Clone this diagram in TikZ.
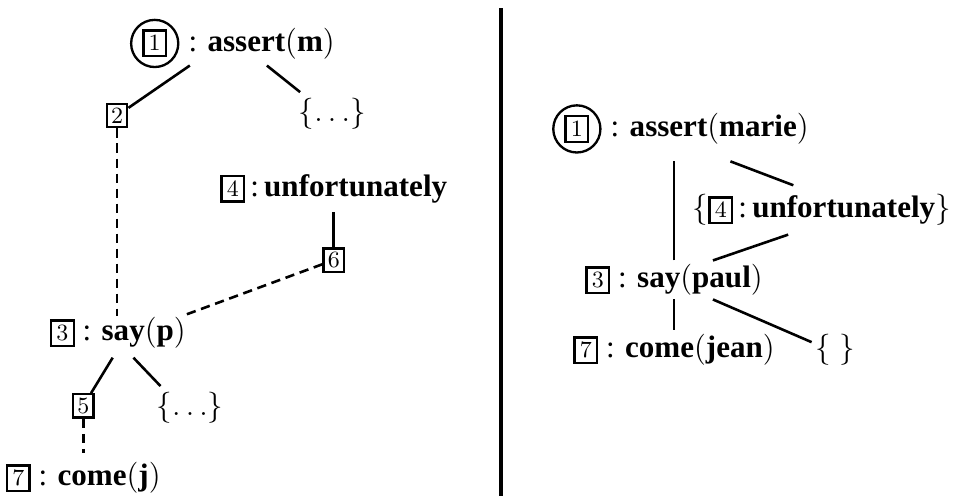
\documentclass[tikz,border=0pt]{standalone}
\usepackage[no-math]{fontspec}
\setmainfont{Liberation Serif}
\usepackage{amsmath}
\usetikzlibrary{positioning}

\setlength{\fboxsep}{1.6pt}
\setlength{\fboxrule}{0.9pt}
\newcommand{\boxnum}[1]{\fbox{\small$#1$}}

\tikzset{
  every node/.style={font=\large},
  idx/.style={draw, line width=0.9pt, inner sep=1.6pt, font=\small},
  ring/.style={draw, circle, line width=0.9pt, minimum size=0.64cm, inner sep=0pt},
  edge/.style={line width=1pt},
  dedge/.style={line width=1pt, dash pattern=on 3.6pt off 2.2pt}
}

\begin{document}
\begin{tikzpicture}
    \useasboundingbox (0,0) rectangle (12.99,6.73);

    % left tree
    \node[ring] (l1) at (2.10,6.14) {\boxnum{1}};
    \node[right=0pt of l1] (la) {: \textbf{assert}$($\textbf{m}$)$};
    \node[idx] (l2) at (1.59,5.16) {$2$};
    \node (lx) at (4.51,5.18) {$\{\ldots\}$};
    \node (l4) at (4.53,4.17) {\boxnum{4}\,:\,\textbf{unfortunately}};
    \node[idx] (l6) at (4.53,3.20) {$6$};
    \node (l3) at (1.60,2.21) {\boxnum{3} : \textbf{say}$($\textbf{p}$)$};
    \node[idx] (l5) at (1.13,1.22) {$5$};
    \node (ly) at (2.58,1.19) {$\{\ldots\}$};
    \node (l7) at (1.13,0.24) {\boxnum{7} : \textbf{come}$($\textbf{j}$)$};

    \draw[edge] ([xshift=4pt,yshift=1pt]la.south west) -- (l2);
    \draw[edge] ([xshift=2pt,yshift=1pt]la.south) -- ([xshift=4pt,yshift=-1pt]lx.north west);
    \draw[dedge] (l2) -- ([yshift=-3pt]l2 |- l3.north);
    \draw[edge] (l4) -- (l6);
    \draw[dedge] (l6) -- ([xshift=-5pt,yshift=-3pt]l3.north east);
    \draw[edge] ([xshift=-2pt]l3.south) -- (l5);
    \draw[edge] ([xshift=6pt]l3.south) -- ([xshift=5pt,yshift=-1pt]ly.north west);
    \draw[dedge] (l5) -- (l5 |- l7.north);

    \draw[line width=1.2pt] (6.80,6.62) -- (6.80,0);

    % right tree
    \node[ring] (r1) at (7.83,4.98) {\boxnum{1}};
    \node[right=0pt of r1] (ra) {: \textbf{assert}$($\textbf{marie}$)$};
    \node[anchor=east] (r4) at (13.03,3.88) {$\{$\boxnum{4}\,:\,\textbf{unfortunately}$\}$};
    \node (r3) at (9.15,2.93) {\boxnum{3} : \textbf{say}$($\textbf{paul}$)$};
    \node (r7) at (9.15,1.98) {\boxnum{7} : \textbf{come}$($\textbf{jean}$)$};
    \node (rz) at (11.34,1.98) {$\{\;\}$};

    \draw[edge] ([yshift=-2pt]r3.north) -- ([yshift=-3pt]r3.north |- ra.south);
    \draw[edge] ([xshift=8pt,yshift=-3pt]ra.south) -- ([xshift=-11pt]r4.north);
    \draw[edge] ([xshift=-13pt]r4.south) -- ([xshift=15pt,yshift=-2pt]r3.north);
    \draw[edge] ([yshift=2pt]r3.south) -- ([yshift=-2pt]r3.south |- r7.north);
    \draw[edge] ([xshift=15pt,yshift=2pt]r3.south) -- ([xshift=2pt,yshift=3pt]rz.west);
  \end{tikzpicture}
\end{document}
